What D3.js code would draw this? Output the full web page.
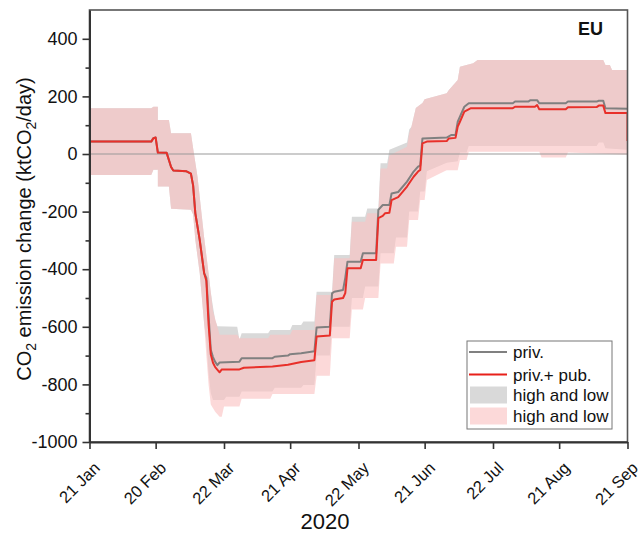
<!DOCTYPE html>
<html><head><meta charset="utf-8">
<script src="https://cdn.jsdelivr.net/npm/d3@7"></script>
<style>body{margin:0;background:#fff;} text{font-family:"Liberation Sans",Arial,sans-serif;fill:#111;}</style>
</head><body><svg id="c" width="640" height="536"></svg>
<script>
// ---------- data ----------
const xTickDates  = ["2020-01-21","2020-02-20","2020-03-22","2020-04-21","2020-05-22","2020-06-21","2020-07-22","2020-08-21","2020-09-21"];
const xTickLabels = ["21 Jan","20 Feb","22 Mar","21 Apr","22 May","21 Jun","22 Jul","21 Aug","21 Sep"];
const yTicks      = [-1000,-800,-600,-400,-200,0,200,400];
const yTickLabels = ["-1000","-800","-600","-400","-200","0","200","400"];
const yMinorTicks = [-900,-700,-500,-300,-100,100,300];
const legendLabels = ["priv.","priv.+ pub.","high and low","high and low"];
const regionLabel = "EU";
const xTitle = "2020";

const commonStart = [["2020-01-21",43],["2020-02-18",43],["2020-02-19",55],["2020-02-20",57],["2020-02-21",5],["2020-02-25",4],["2020-02-27",-45],["2020-02-28",-57],["2020-03-05",-60],["2020-03-07",-68],["2020-03-08",-110],["2020-03-09",-206],["2020-03-11",-299],["2020-03-13",-414]];

const privPubLine = commonStart.concat([["2020-03-14",-440],["2020-03-15",-590],["2020-03-16",-695],["2020-03-17",-725],["2020-03-18",-740],["2020-03-20",-758],["2020-03-21",-748],["2020-03-29",-748],["2020-03-31",-742],["2020-04-13",-738],["2020-04-20",-732],["2020-04-26",-722],["2020-05-02",-716],["2020-05-03",-634],["2020-05-09",-630],["2020-05-10",-513],["2020-05-11",-505],["2020-05-15",-500],["2020-05-16",-483],["2020-05-17",-397],["2020-05-23",-397],["2020-05-24",-368],["2020-05-30",-368],["2020-05-31",-223],["2020-06-02",-215],["2020-06-03",-206],["2020-06-05",-204],["2020-06-06",-160],["2020-06-09",-150],["2020-06-13",-113],["2020-06-16",-79],["2020-06-18",-61],["2020-06-19",-55],["2020-06-20",37],["2020-06-22",43],["2020-07-01",45],["2020-07-02",54],["2020-07-05",56],["2020-07-06",95],["2020-07-07",112],["2020-07-09",147],["2020-07-12",159],["2020-07-31",159],["2020-08-01",164],["2020-08-10",164],["2020-08-11",170],["2020-08-12",155],["2020-08-24",155],["2020-08-25",162],["2020-09-07",163],["2020-09-08",168],["2020-09-10",168],["2020-09-11",142],["2020-09-21",142],["2020-09-21",45]]);

const privLine = commonStart.concat([["2020-03-14",-430],["2020-03-15",-560],["2020-03-16",-680],["2020-03-17",-705],["2020-03-18",-722],["2020-03-19",-733],["2020-03-20",-724],["2020-03-29",-721],["2020-03-30",-709],["2020-04-13",-709],["2020-04-14",-704],["2020-04-20",-700],["2020-04-21",-695],["2020-04-26",-692],["2020-05-02",-685],["2020-05-03",-602],["2020-05-09",-600],["2020-05-10",-484],["2020-05-11",-478],["2020-05-15",-472],["2020-05-16",-430],["2020-05-17",-374],["2020-05-23",-374],["2020-05-24",-345],["2020-05-30",-345],["2020-05-31",-194],["2020-06-02",-177],["2020-06-05",-177],["2020-06-06",-137],["2020-06-09",-132],["2020-06-13",-96],["2020-06-16",-61],["2020-06-18",-44],["2020-06-19",-40],["2020-06-20",54],["2020-07-01",57],["2020-07-03",66],["2020-07-05",66],["2020-07-06",112],["2020-07-07",130],["2020-07-09",164],["2020-07-11",176],["2020-07-31",176],["2020-08-01",182],["2020-08-07",182],["2020-08-08",187],["2020-08-11",187],["2020-08-12",176],["2020-08-24",176],["2020-08-25",182],["2020-09-07",182],["2020-09-08",185],["2020-09-10",185],["2020-09-11",159],["2020-09-21",157]]);

const highStart = [["2020-01-21",159],["2020-02-18",159],["2020-02-19",164],["2020-02-21",164],["2020-02-21",118],["2020-02-26",118],["2020-02-27",72],["2020-03-07",72],["2020-03-08",20],["2020-03-10",-80],["2020-03-13",-290],["2020-03-15",-414]];
const highEnd = [["2020-06-15",95],["2020-06-17",160],["2020-06-20",177],["2020-06-21",190],["2020-07-01",211],["2020-07-02",222],["2020-07-06",257],["2020-07-07",303],["2020-07-13",315],["2020-07-15",326],["2020-09-10",326],["2020-09-11",309],["2020-09-13",309],["2020-09-14",292],["2020-09-21",292]];

const privPubHigh = highStart.concat([["2020-03-17",-545],["2020-03-19",-600],["2020-03-20",-628],["2020-03-28",-628],["2020-03-29",-640],["2020-04-11",-640],["2020-04-12",-628],["2020-04-21",-628],["2020-04-22",-611],["2020-05-02",-611],["2020-05-03",-490],["2020-05-10",-490],["2020-05-11",-362],["2020-05-18",-362],["2020-05-19",-235],["2020-05-25",-235],["2020-05-26",-206],["2020-05-31",-206],["2020-06-01",-50],["2020-06-04",-50],["2020-06-05",-5],["2020-06-13",25],["2020-06-14",72]]).concat(highEnd);

const privHigh = highStart.concat([["2020-03-16",-480],["2020-03-17",-530],["2020-03-18",-576],["2020-03-19",-598],["2020-03-28",-600],["2020-03-29",-645],["2020-03-30",-622],["2020-04-11",-622],["2020-04-12",-611],["2020-04-21",-611],["2020-04-22",-594],["2020-04-26",-594],["2020-04-27",-582],["2020-05-02",-582],["2020-05-03",-478],["2020-05-10",-478],["2020-05-11",-351],["2020-05-18",-351],["2020-05-19",-218],["2020-05-25",-218],["2020-05-26",-189],["2020-05-31",-189],["2020-06-01",-32],["2020-06-04",-32],["2020-06-05",15],["2020-06-13",40],["2020-06-14",85]]).concat(highEnd);

const lowStart = [["2020-01-21",-73],["2020-02-18",-73],["2020-02-19",-55],["2020-02-21",-55],["2020-02-21",-113],["2020-02-26",-113],["2020-02-27",-190],["2020-03-07",-194],["2020-03-08",-210],["2020-03-09",-299],["2020-03-11",-414],["2020-03-13",-590]];

const privPubLow = lowStart.concat([["2020-03-14",-700],["2020-03-15",-800],["2020-03-16",-870],["2020-03-18",-895],["2020-03-20",-912],["2020-03-21",-912],["2020-03-22",-877],["2020-03-29",-877],["2020-03-30",-850],["2020-04-12",-850],["2020-04-13",-833],["2020-05-02",-833],["2020-05-03",-770],["2020-05-09",-770],["2020-05-10",-640],["2020-05-18",-640],["2020-05-19",-540],["2020-05-24",-540],["2020-05-25",-500],["2020-05-31",-500],["2020-06-01",-380],["2020-06-07",-380],["2020-06-08",-322],["2020-06-13",-322],["2020-06-14",-229],["2020-06-18",-229],["2020-06-19",-160],["2020-06-21",-160],["2020-06-22",-90],["2020-06-30",-60],["2020-07-01",-56],["2020-07-06",-56],["2020-07-07",-21],["2020-07-10",-21],["2020-07-11",8],["2020-08-12",8],["2020-08-13",-12],["2020-08-24",-12],["2020-08-25",5],["2020-09-21",-3]]);

const privLow = lowStart.concat([["2020-03-14",-650],["2020-03-15",-760],["2020-03-16",-830],["2020-03-17",-854],["2020-03-22",-854],["2020-03-23",-843],["2020-03-29",-843],["2020-03-30",-825],["2020-04-13",-825],["2020-04-14",-812],["2020-04-26",-812],["2020-04-27",-802],["2020-05-02",-802],["2020-05-03",-700],["2020-05-09",-700],["2020-05-10",-600],["2020-05-18",-600],["2020-05-19",-500],["2020-05-24",-500],["2020-05-25",-460],["2020-05-31",-460],["2020-06-01",-345],["2020-06-07",-345],["2020-06-08",-290],["2020-06-13",-290],["2020-06-14",-200],["2020-06-18",-200],["2020-06-19",-130],["2020-06-21",-130],["2020-06-22",-60],["2020-07-01",-30],["2020-07-06",-25],["2020-07-07",5],["2020-07-10",5],["2020-07-11",28],["2020-09-07",28],["2020-09-08",40],["2020-09-10",40],["2020-09-11",20],["2020-09-21",15]]);

// ---------- chart ----------
const parse = d3.utcParse("%Y-%m-%d");
const svg = d3.select("#c");
const L = 89.5, R = 627.5, T = 10, B = 442;
const x = d3.scaleUtc().domain([parse("2020-01-21"), parse("2020-09-21")]).range([L, R]);
const y = d3.scaleLinear().domain([-1000, 500]).range([B, T]);

const COL_RED = "#e8302a", COL_GRAY = "#808080";
const FILL_GRAY = "#d9d9d9", FILL_PINK = "rgb(250,194,194)", PINK_OP = 0.62;

svg.append("defs").append("clipPath").attr("id","clip")
  .append("rect").attr("x",L).attr("y",T).attr("width",R-L).attr("height",B-T);
const plot = svg.append("g").attr("clip-path","url(#clip)");

const lineGen = d3.line().x(d => x(parse(d[0]))).y(d => y(d[1]));
const bandPts = (hi, lo) => hi.concat(lo.slice().reverse());

plot.append("path").attr("d", lineGen(bandPts(privHigh, privLow)) + "Z")
  .attr("fill", FILL_GRAY);
plot.append("path").attr("d", lineGen(bandPts(privPubHigh, privPubLow)) + "Z")
  .attr("fill", FILL_PINK).attr("fill-opacity", PINK_OP);

// zero line
plot.append("line").attr("x1",L).attr("x2",R).attr("y1",y(0)).attr("y2",y(0))
  .attr("stroke","#9a9a9a").attr("stroke-width",1.2);

plot.append("path").attr("d", lineGen(privLine)).attr("fill","none")
  .attr("stroke",COL_GRAY).attr("stroke-width",2).attr("stroke-linejoin","round");
plot.append("path").attr("d", lineGen(privPubLine)).attr("fill","none")
  .attr("stroke",COL_RED).attr("stroke-width",2).attr("stroke-linejoin","round");

// frame
svg.append("rect").attr("x",L).attr("y",T).attr("width",R-L).attr("height",B-T)
  .attr("fill","none").attr("stroke","#555").attr("stroke-width",1.6);

// axes
const xAxis = svg.append("g").attr("transform",`translate(0,${B})`)
  .call(d3.axisBottom(x).tickValues(xTickDates.map(parse))
    .tickFormat((d,i) => xTickLabels[i]).tickSize(7).tickSizeOuter(0));
xAxis.selectAll("text").attr("x",0).attr("y",0).attr("dy",0)
  .attr("text-anchor","end").attr("transform","translate(11,27) rotate(-45)")
  .style("font-size","16.5px");

const yAxis = svg.append("g").attr("transform",`translate(${L},0)`)
  .call(d3.axisLeft(y).tickValues(yTicks).tickFormat((d,i) => yTickLabels[i])
    .tickSize(7).tickSizeOuter(0).tickPadding(5));
yAxis.selectAll("text").style("font-size","18px");
svg.append("g").attr("transform",`translate(${L},0)`)
  .call(d3.axisLeft(y).tickValues(yMinorTicks).tickSize(4).tickFormat(""))
  .select(".domain").remove();

svg.selectAll(".domain").attr("stroke","#333").attr("stroke-width",2);
svg.selectAll(".tick line").attr("stroke","#333").attr("stroke-width",1.6);

// titles
svg.append("text").attr("x",325).attr("y",529).attr("text-anchor","middle")
  .style("font-size","22px").text(xTitle);

const yt = svg.append("text").attr("transform","translate(31,229) rotate(-90)")
  .attr("text-anchor","middle").style("font-size","20px");
yt.append("tspan").text("CO");
yt.append("tspan").attr("dy",5).style("font-size","14px").text("2");
yt.append("tspan").attr("dy",-5).text(" emission change (ktCO");
yt.append("tspan").attr("dy",5).style("font-size","14px").text("2");
yt.append("tspan").attr("dy",-5).text("/day)");

svg.append("text").attr("x",603).attr("y",35).attr("text-anchor","end")
  .style("font-size","18px").style("font-weight","bold").text(regionLabel);

// legend
const lg = svg.append("g");
lg.append("rect").attr("x",467).attr("y",341).attr("width",145).attr("height",88)
  .attr("fill","#fff").attr("stroke","#777").attr("stroke-width",1);
const rowY = [352, 374.5, 395, 416];
lg.append("line").attr("x1",469).attr("x2",507).attr("y1",rowY[0]).attr("y2",rowY[0])
  .attr("stroke",COL_GRAY).attr("stroke-width",2);
lg.append("line").attr("x1",469).attr("x2",507).attr("y1",rowY[1]).attr("y2",rowY[1])
  .attr("stroke","#e8201a").attr("stroke-width",2);
lg.append("rect").attr("x",470).attr("y",rowY[2]-8.5).attr("width",37).attr("height",17)
  .attr("fill",FILL_GRAY);
lg.append("rect").attr("x",470).attr("y",rowY[3]-8.5).attr("width",37).attr("height",17)
  .attr("fill",FILL_PINK).attr("fill-opacity",PINK_OP);
legendLabels.forEach((t,i) => {
  lg.append("text").attr("x",513).attr("y",rowY[i]+6).style("font-size","17px").text(t);
});
</script></body></html>
